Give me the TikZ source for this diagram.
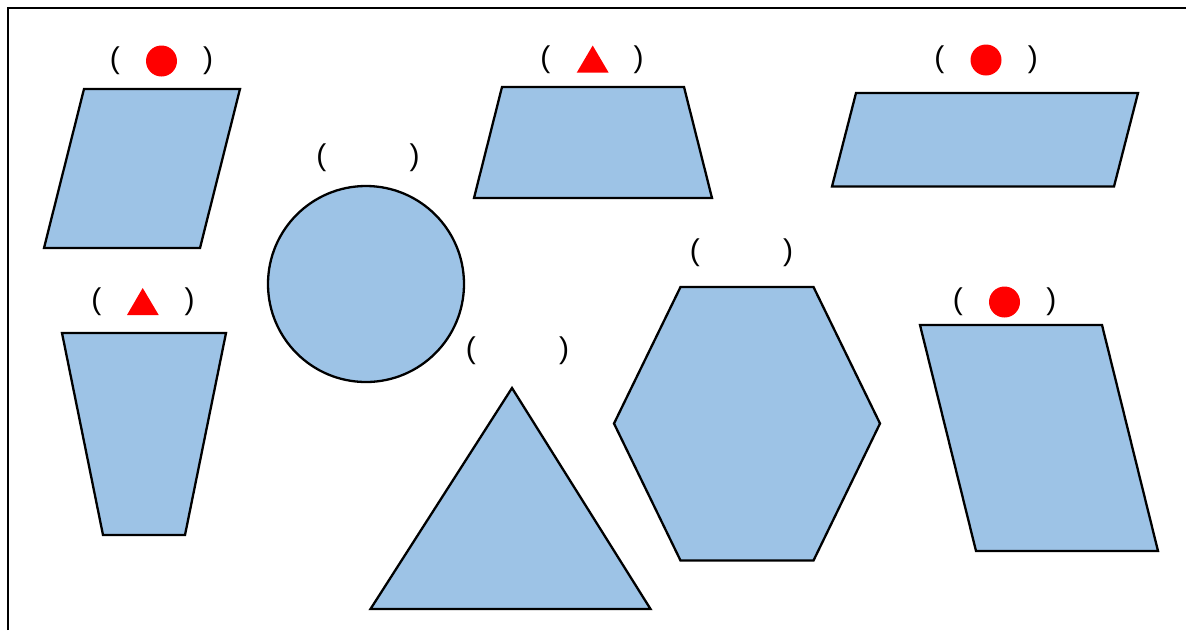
\documentclass[tikz,border=0pt]{standalone}
\usepackage{fontspec}
\setmainfont{Liberation Sans}
\usepackage{tikz}
\definecolor{shapeblue}{RGB}{157,195,230}
\newcommand{\gap}{(\hspace{83.5pt})}

\begin{document}
\begin{tikzpicture}[x=1pt,y=-1pt,line join=miter,
  shp/.style={draw=black,fill=shapeblue,line width=2.3pt},
  slot/.style={inner sep=0pt,font=\fontsize{30}{36}\selectfont},
  dot/.style={circle,fill=red,inner sep=0pt,minimum size=31pt},
  tri/.style={fill=red}]
\useasboundingbox (0,0) rectangle (1186,630);
\draw[line width=2.6pt] (8,630) -- (8,8) -- (1186,8);

\draw[shp] (84,89) -- (240,89) -- (200,248) -- (44,248) -- cycle;
\node[slot] (lA) at (161.5,61) {\gap};
\node[dot] (mA) at (lA) {};

\draw[shp] (366,284) circle (98);
\node[slot] (lB) at (368,158) {\gap};

\draw[shp] (502,87) -- (684,87) -- (712,198) -- (474,198) -- cycle;
\node[slot] (lC) at (592,60) {\gap};
\fill[tri] (592.7,45.5) -- (608.7,72.7) -- (576.7,72.7) -- cycle;

\draw[shp] (856,93) -- (1138,93) -- (1114,186.5) -- (832,186.5) -- cycle;
\node[slot] (lD) at (986,60) {\gap};
\node[dot] (mD) at (lD) {};

\draw[shp] (62,333) -- (226,333) -- (185,535) -- (103,535) -- cycle;
\node[slot] (lE) at (143,302) {\gap};
\fill[tri] (142.7,288) -- (158.7,315) -- (127,315) -- cycle;

\draw[shp] (512,388) -- (650.5,609) -- (370.5,609) -- cycle;
\node[slot] (lF) at (517.5,351) {\gap};

\draw[shp] (680.5,287) -- (813.5,287) -- (880,423.5) -- (813.5,560.5) -- (680.5,560.5) -- (614,423.5) -- cycle;
\node[slot] (lG) at (741.5,253) {\gap};

\draw[shp] (920,325) -- (1102,325) -- (1158,551) -- (976,551) -- cycle;
\node[slot] (lH) at (1004.5,302) {\gap};
\node[dot] (mH) at (lH) {};
\end{tikzpicture}
\end{document}
